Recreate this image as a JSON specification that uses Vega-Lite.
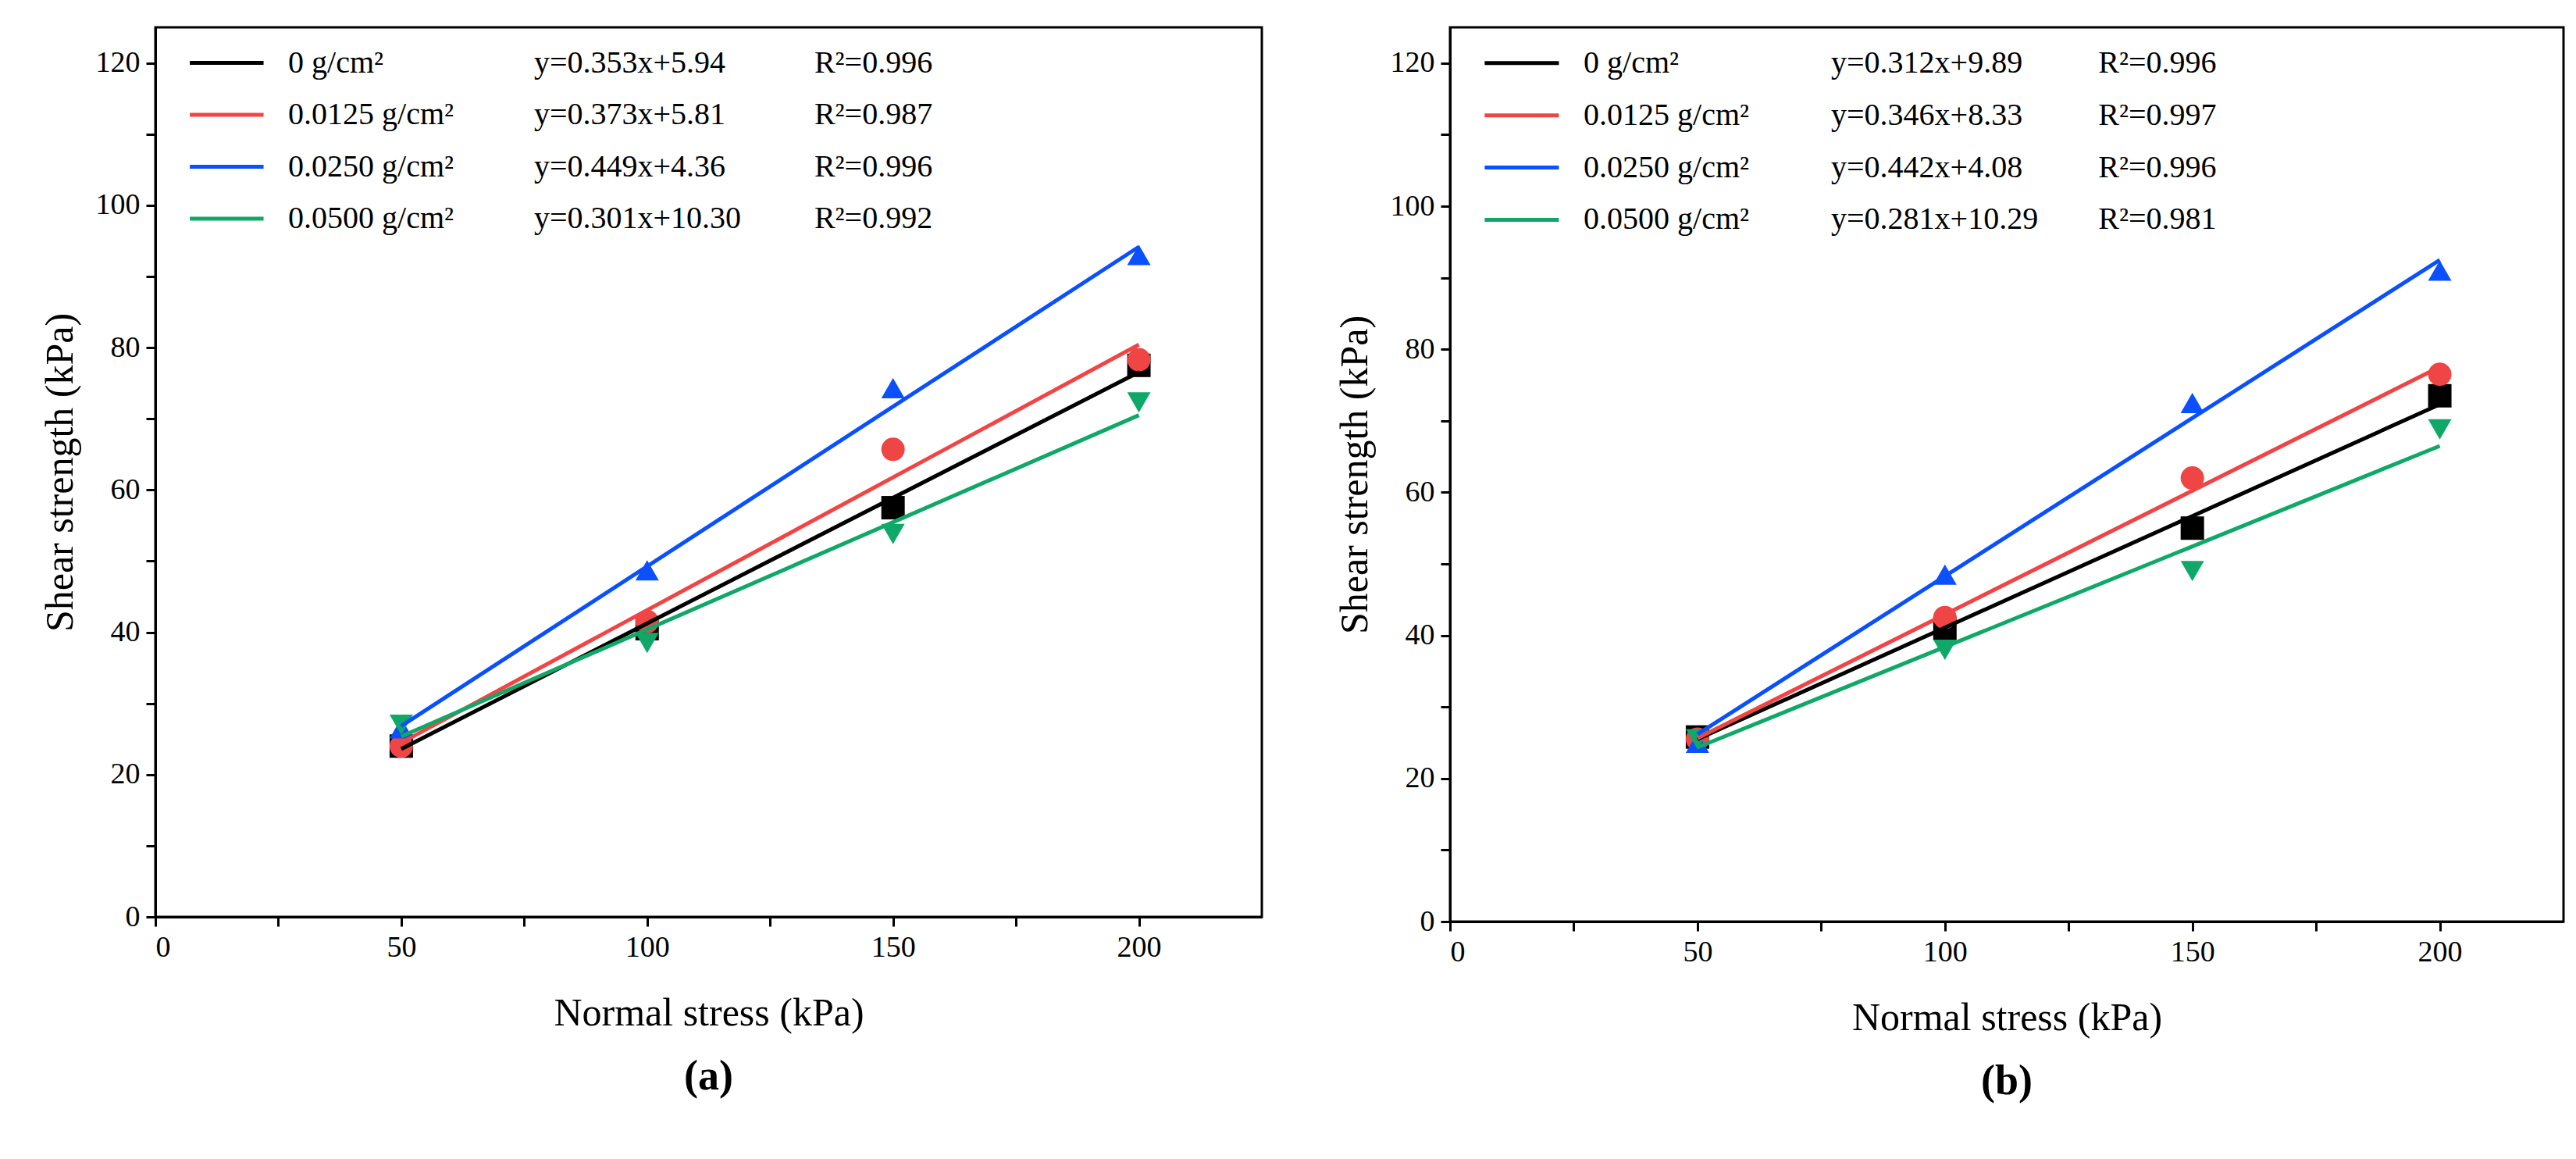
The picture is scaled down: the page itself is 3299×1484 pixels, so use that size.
{
  "$schema": "https://vega.github.io/schema/vega-lite/v6.json",
  "padding": {"left": 50, "top": 33, "right": 0, "bottom": 0},
  "background": "white",
  "config": {
    "font": "Liberation Serif",
    "view": {"stroke": "black", "strokeWidth": 3},
    "axis": {
      "domainColor": "black", "domainWidth": 3, "tickColor": "black", "tickWidth": 3, "tickSize": 12,
      "labelFont": "Liberation Serif", "labelFontSize": 38, "labelColor": "black",
      "titleFont": "Liberation Serif", "titleFontSize": 50, "titleFontWeight": "normal", "titleColor": "black",
      "grid": false
    },
    "title": {"font": "Liberation Serif", "fontSize": 54, "fontWeight": "bold", "color": "black", "orient": "bottom", "offset": 30}
  },
  "datasets": {
    "ptsA": [
      {"s": "0 g/cm²", "x": 50, "y": 24}, {"s": "0 g/cm²", "x": 100, "y": 40.5}, {"s": "0 g/cm²", "x": 150, "y": 57.5}, {"s": "0 g/cm²", "x": 200, "y": 77.5},
      {"s": "0.0125 g/cm²", "x": 50, "y": 24}, {"s": "0.0125 g/cm²", "x": 100, "y": 41.5}, {"s": "0.0125 g/cm²", "x": 150, "y": 65.7}, {"s": "0.0125 g/cm²", "x": 200, "y": 78.3},
      {"s": "0.0250 g/cm²", "x": 50, "y": 26.5}, {"s": "0.0250 g/cm²", "x": 100, "y": 48.7}, {"s": "0.0250 g/cm²", "x": 150, "y": 74.3}, {"s": "0.0250 g/cm²", "x": 200, "y": 93},
      {"s": "0.0500 g/cm²", "x": 50, "y": 27}, {"s": "0.0500 g/cm²", "x": 100, "y": 38.5}, {"s": "0.0500 g/cm²", "x": 150, "y": 53.8}, {"s": "0.0500 g/cm²", "x": 200, "y": 72.3}
    ],
    "fitA": [
      {"s": "0 g/cm²", "x": 50, "y": 23.59}, {"s": "0 g/cm²", "x": 200, "y": 76.54},
      {"s": "0.0125 g/cm²", "x": 50, "y": 24.46}, {"s": "0.0125 g/cm²", "x": 200, "y": 80.41},
      {"s": "0.0250 g/cm²", "x": 50, "y": 26.81}, {"s": "0.0250 g/cm²", "x": 200, "y": 94.16},
      {"s": "0.0500 g/cm²", "x": 50, "y": 25.35}, {"s": "0.0500 g/cm²", "x": 200, "y": 70.5}
    ],
    "legA": [
      {"s": "0 g/cm²", "y": 120, "eq": "y=0.353x+5.94", "r": "R²=0.996"},
      {"s": "0.0125 g/cm²", "y": 112.7, "eq": "y=0.373x+5.81", "r": "R²=0.987"},
      {"s": "0.0250 g/cm²", "y": 105.4, "eq": "y=0.449x+4.36", "r": "R²=0.996"},
      {"s": "0.0500 g/cm²", "y": 98.1, "eq": "y=0.301x+10.30", "r": "R²=0.992"}
    ],
    "ptsB": [
      {"s": "0 g/cm²", "x": 50, "y": 25.8}, {"s": "0 g/cm²", "x": 100, "y": 41}, {"s": "0 g/cm²", "x": 150, "y": 55}, {"s": "0 g/cm²", "x": 200, "y": 73.5},
      {"s": "0.0125 g/cm²", "x": 50, "y": 25.5}, {"s": "0.0125 g/cm²", "x": 100, "y": 42.5}, {"s": "0.0125 g/cm²", "x": 150, "y": 62}, {"s": "0.0125 g/cm²", "x": 200, "y": 76.5},
      {"s": "0.0250 g/cm²", "x": 50, "y": 25}, {"s": "0.0250 g/cm²", "x": 100, "y": 48.5}, {"s": "0.0250 g/cm²", "x": 150, "y": 72.5}, {"s": "0.0250 g/cm²", "x": 200, "y": 91},
      {"s": "0.0500 g/cm²", "x": 50, "y": 25.5}, {"s": "0.0500 g/cm²", "x": 100, "y": 38}, {"s": "0.0500 g/cm²", "x": 150, "y": 49}, {"s": "0.0500 g/cm²", "x": 200, "y": 68.8}
    ],
    "fitB": [
      {"s": "0 g/cm²", "x": 50, "y": 25.49}, {"s": "0 g/cm²", "x": 200, "y": 72.29},
      {"s": "0.0125 g/cm²", "x": 50, "y": 25.63}, {"s": "0.0125 g/cm²", "x": 200, "y": 77.53},
      {"s": "0.0250 g/cm²", "x": 50, "y": 26.18}, {"s": "0.0250 g/cm²", "x": 200, "y": 92.48},
      {"s": "0.0500 g/cm²", "x": 50, "y": 24.34}, {"s": "0.0500 g/cm²", "x": 200, "y": 66.49}
    ],
    "legB": [
      {"s": "0 g/cm²", "y": 120, "eq": "y=0.312x+9.89", "r": "R²=0.996"},
      {"s": "0.0125 g/cm²", "y": 112.7, "eq": "y=0.346x+8.33", "r": "R²=0.997"},
      {"s": "0.0250 g/cm²", "y": 105.4, "eq": "y=0.442x+4.08", "r": "R²=0.996"},
      {"s": "0.0500 g/cm²", "y": 98.1, "eq": "y=0.281x+10.29", "r": "R²=0.981"}
    ]
  },
  "spacing": 90,
  "hconcat": [
    {
      "width": 1417, "height": 1139,
      "title": {"text": "(a)"},
      "encoding": {
        "x": {"type": "quantitative", "scale": {"domain": [0, 225], "nice": false}, "title": "Normal stress (kPa)", "axis": {"values": [0, 25, 50, 75, 100, 125, 150, 175, 200], "labelExpr": "datum.value % 50 ? '' : datum.label", "titlePadding": 40, "labelPadding": 8}},
        "y": {"type": "quantitative", "scale": {"domain": [0, 125], "nice": false}, "title": "Shear strength (kPa)", "axis": {"values": [0, 10, 20, 30, 40, 50, 60, 70, 80, 90, 100, 110, 120], "labelExpr": "datum.value % 20 ? '' : datum.label", "titlePadding": 20, "labelPadding": 8}},
        "color": {"field": "s", "type": "nominal", "legend": null, "scale": {"domain": ["0 g/cm²", "0.0125 g/cm²", "0.0250 g/cm²", "0.0500 g/cm²"], "range": ["#000000", "#ff0000", "#0000ff", "#00a060"]}}
      },
      "layer": [
        {"data": {"name": "ptsA"}, "mark": {"type": "point", "filled": true, "size": 900, "opacity": 1},
         "encoding": {"x": {"field": "x"}, "y": {"field": "y"},
           "color": {"field": "s", "type": "nominal", "legend": null, "scale": {"domain": ["0 g/cm²", "0.0125 g/cm²", "0.0250 g/cm²", "0.0500 g/cm²"], "range": ["#000000", "#f04545", "#0a50ff", "#10a868"]}},
           "shape": {"field": "s", "type": "nominal", "legend": null, "scale": {"domain": ["0 g/cm²", "0.0125 g/cm²", "0.0250 g/cm²", "0.0500 g/cm²"], "range": ["square", "circle", "triangle-up", "triangle-down"]}}}},
        {"data": {"name": "fitA"}, "mark": {"type": "line", "strokeWidth": 5},
         "encoding": {"x": {"field": "x"}, "y": {"field": "y"}}},
        {"data": {"name": "legA"}, "mark": {"type": "rule", "strokeWidth": 5},
         "encoding": {"x": {"datum": 7}, "x2": {"datum": 22}, "y": {"field": "y"}}},
        {"data": {"name": "legA"}, "mark": {"type": "text", "align": "left", "baseline": "middle", "fontSize": 40},
         "encoding": {"x": {"datum": 27}, "y": {"field": "y"}, "text": {"field": "s"}, "color": {"value": "black"}}},
        {"data": {"name": "legA"}, "mark": {"type": "text", "align": "left", "baseline": "middle", "fontSize": 40},
         "encoding": {"x": {"datum": 77}, "y": {"field": "y"}, "text": {"field": "eq"}, "color": {"value": "black"}}},
        {"data": {"name": "legA"}, "mark": {"type": "text", "align": "left", "baseline": "middle", "fontSize": 40},
         "encoding": {"x": {"datum": 134}, "y": {"field": "y"}, "text": {"field": "r"}, "color": {"value": "black"}}}
      ]
    },
    {
      "width": 1426, "height": 1145,
      "title": {"text": "(b)"},
      "encoding": {
        "x": {"type": "quantitative", "scale": {"domain": [0, 225], "nice": false}, "title": "Normal stress (kPa)", "axis": {"values": [0, 25, 50, 75, 100, 125, 150, 175, 200], "labelExpr": "datum.value % 50 ? '' : datum.label", "titlePadding": 40, "labelPadding": 8}},
        "y": {"type": "quantitative", "scale": {"domain": [0, 125], "nice": false}, "title": "Shear strength (kPa)", "axis": {"values": [0, 10, 20, 30, 40, 50, 60, 70, 80, 90, 100, 110, 120], "labelExpr": "datum.value % 20 ? '' : datum.label", "titlePadding": 20, "labelPadding": 8}},
        "color": {"field": "s", "type": "nominal", "legend": null, "scale": {"domain": ["0 g/cm²", "0.0125 g/cm²", "0.0250 g/cm²", "0.0500 g/cm²"], "range": ["#ff00ff", "#dd9900", "#00c8c8", "#8b4a4a"]}}
      },
      "layer": [
        {"data": {"name": "ptsB"}, "mark": {"type": "point", "filled": true, "size": 900, "opacity": 1},
         "encoding": {"x": {"field": "x"}, "y": {"field": "y"},
           "color": {"field": "s", "type": "nominal", "legend": null, "scale": {"domain": ["0 g/cm²", "0.0125 g/cm²", "0.0250 g/cm²", "0.0500 g/cm²"], "range": ["#f040f0", "#e09c10", "#10c8c8", "#8b5050"]}},
           "shape": {"field": "s", "type": "nominal", "legend": null, "scale": {"domain": ["0 g/cm²", "0.0125 g/cm²", "0.0250 g/cm²", "0.0500 g/cm²"], "range": ["diamond", "triangle-left", "triangle-right", "M-1,0L-0.5,-0.866L0.5,-0.866L1,0L0.5,0.866L-0.5,0.866Z"]}}}},
        {"data": {"name": "fitB"}, "mark": {"type": "line", "strokeWidth": 5},
         "encoding": {"x": {"field": "x"}, "y": {"field": "y"}}},
        {"data": {"name": "legB"}, "mark": {"type": "rule", "strokeWidth": 5},
         "encoding": {"x": {"datum": 7}, "x2": {"datum": 22}, "y": {"field": "y"}}},
        {"data": {"name": "legB"}, "mark": {"type": "text", "align": "left", "baseline": "middle", "fontSize": 40},
         "encoding": {"x": {"datum": 27}, "y": {"field": "y"}, "text": {"field": "s"}, "color": {"value": "black"}}},
        {"data": {"name": "legB"}, "mark": {"type": "text", "align": "left", "baseline": "middle", "fontSize": 40},
         "encoding": {"x": {"datum": 77}, "y": {"field": "y"}, "text": {"field": "eq"}, "color": {"value": "black"}}},
        {"data": {"name": "legB"}, "mark": {"type": "text", "align": "left", "baseline": "middle", "fontSize": 40},
         "encoding": {"x": {"datum": 131}, "y": {"field": "y"}, "text": {"field": "r"}, "color": {"value": "black"}}}
      ]
    }
  ]
}
